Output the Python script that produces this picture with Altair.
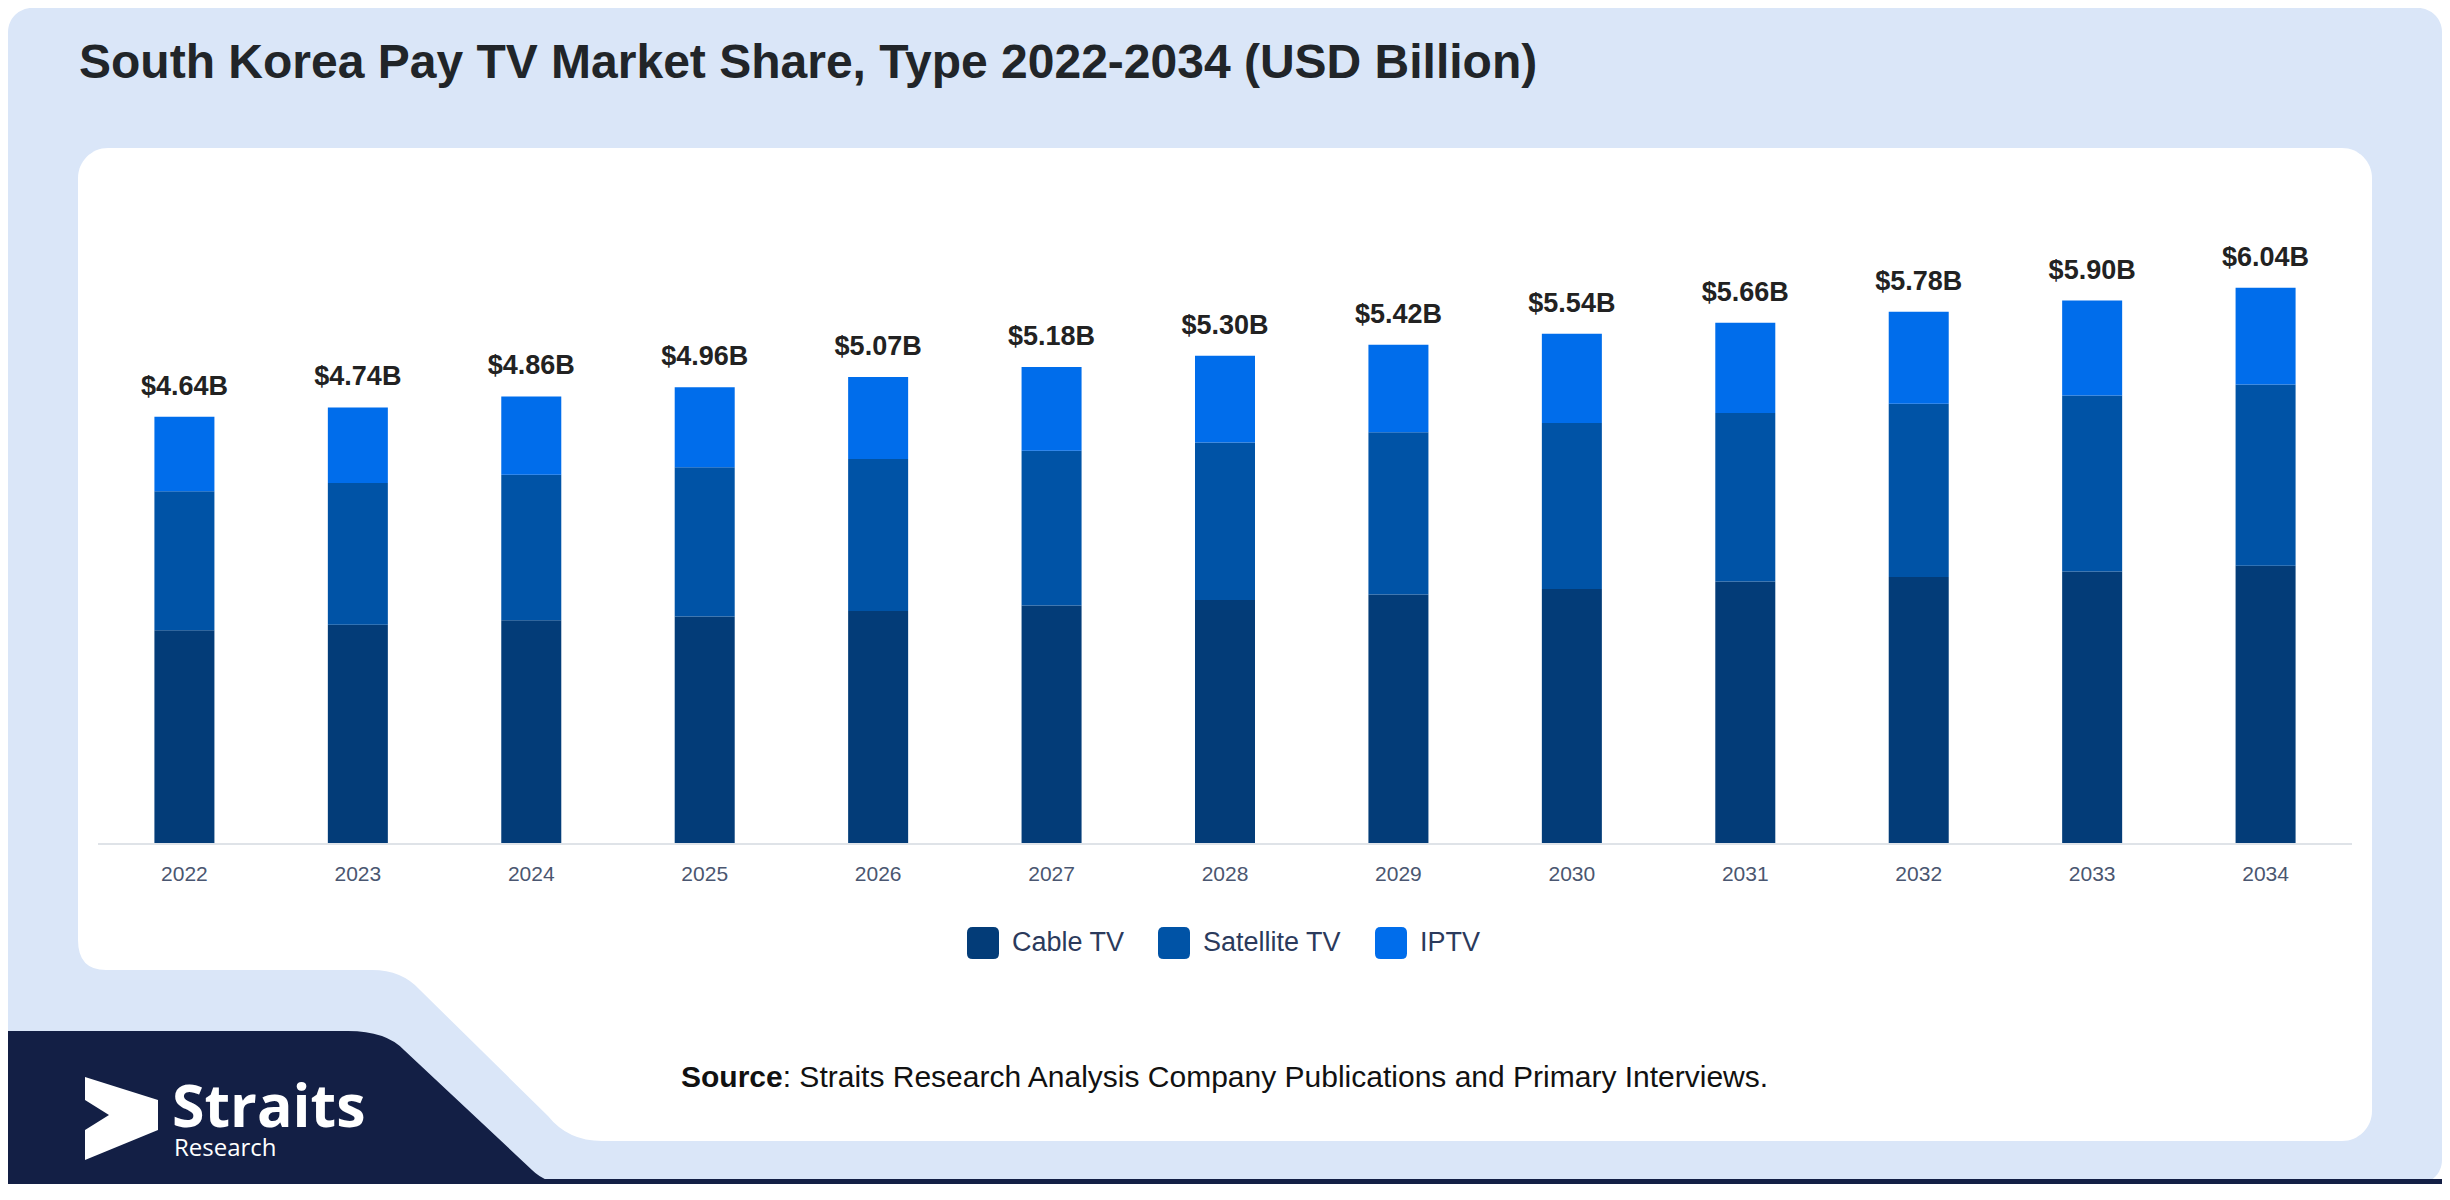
import altair as alt
import pandas as pd

# ---------------- data ----------------
years = ["2022", "2023", "2024", "2025", "2026", "2027", "2028",
         "2029", "2030", "2031", "2032", "2033", "2034"]
cable = [2.32, 2.38, 2.43, 2.47, 2.53, 2.59, 2.65, 2.71, 2.77, 2.85, 2.90, 2.96, 3.02]
satellite = [1.51, 1.54, 1.58, 1.62, 1.65, 1.68, 1.71, 1.76, 1.80, 1.83, 1.88, 1.91, 1.97]
iptv = [0.81, 0.82, 0.85, 0.87, 0.89, 0.91, 0.94, 0.95, 0.97, 0.98, 1.00, 1.03, 1.05]
totals = [4.64, 4.74, 4.86, 4.96, 5.07, 5.18, 5.30, 5.42, 5.54, 5.66, 5.78, 5.90, 6.04]
segments = ["Cable TV", "Satellite TV", "IPTV"]
seg_colors = ["#033c78", "#0053a6", "#006deb"]

title_text = "South Korea Pay TV Market Share, Type 2022-2034 (USD Billion)"
source_bold = "Source"
source_rest = ": Straits Research Analysis Company Publications and Primary Interviews."

# ---------------- frames ----------------
rows = []
for i, y in enumerate(years):
    for k, (name, vals) in enumerate(zip(segments, [cable, satellite, iptv])):
        rows.append({"year": y, "type": name, "value": vals[i], "idx": k})
df = pd.DataFrame(rows)
df_tot = pd.DataFrame({"year": years, "total": totals,
                       "label": [f"${t:.2f}B" for t in totals]})
one = pd.DataFrame({"k": [0]})

# ---------------- layout constants (screen px, page margin 8) ----------------
OFF = 8
W, H = 2434, 1176
LIGHT = "#dae6f8"
NAVY = "#131f45"
FONT = "Liberation Sans"


def X(v):
    return v - OFF


def path_layer(cmds, color):
    xs, ys = [], []
    for c in cmds:
        xs += list(c[1::2])
        ys += list(c[2::2])
    cx = (min(xs) + max(xs)) / 2
    cy = (min(ys) + max(ys)) / 2
    half = max(max(xs) - min(xs), max(ys) - min(ys)) / 2
    parts = []
    for c in cmds:
        nums = [(v - (cx if i % 2 == 0 else cy)) / half for i, v in enumerate(c[1:])]
        parts.append(c[0] + " " + " ".join(f"{n:.5f}" for n in nums))
    path = " ".join(parts) + " Z"
    return alt.Chart(one).mark_point(
        shape=path, filled=True, fill=color, opacity=1, strokeWidth=0,
        size=4 * half * half
    ).encode(x=alt.value(X(cx)), y=alt.value(X(cy)))


def rect_layer(x1, y1, x2, y2, color, r=0):
    return alt.Chart(one).mark_rect(color=color, cornerRadius=r).encode(
        x=alt.value(X(x1)), x2=alt.value(X(x2)),
        y=alt.value(X(y1)), y2=alt.value(X(y2)))


def text_layer(text, x, y, size, color, weight="normal", font=FONT, align="left"):
    return alt.Chart(one).mark_text(
        text=text, font=font, fontSize=size, fontWeight=weight, color=color,
        align=align, baseline="alphabetic"
    ).encode(x=alt.value(X(x)), y=alt.value(X(y)))


# ---------------- decoration ----------------
outer = rect_layer(OFF, OFF, OFF + W, OFF + H, LIGHT, r=24)
panel = rect_layer(78, 148, 2372, 1141, "white", r=30)
notch = path_layer([("M", 70, 940), ("L", 78, 940), ("Q", 78, 970, 106, 970),
                    ("L", 372, 970), ("Q", 402, 970, 420, 990),
                    ("L", 548, 1116), ("Q", 568, 1141, 602, 1141),
                    ("L", 602, 1160), ("L", 70, 1160)], LIGHT)
navy = path_layer([("M", 8, 1031), ("L", 348, 1031), ("Q", 386, 1031, 404, 1050),
                   ("L", 532, 1170), ("Q", 546, 1184, 570, 1184),
                   ("L", 8, 1184)], NAVY)
bottom_line = rect_layer(8, 1179, OFF + W, OFF + H, NAVY)
arrow = path_layer([("M", 85, 1077), ("L", 158, 1100), ("L", 158, 1130),
                    ("L", 85, 1160), ("L", 85, 1130), ("L", 109, 1115),
                    ("L", 85, 1100)], "white")
logo1 = text_layer("Straits", 172, 1127, 59, "white", weight="bold", font="Open Sans")
logo2 = text_layer("Research", 174, 1156, 24, "white", font="Open Sans")

title = text_layer(title_text, 79, 78, 48, "#212529", weight="bold")
SRC_SIZE = 30
src1 = text_layer(source_bold, 681, 1087, SRC_SIZE, "#111111", weight="bold")
src2 = text_layer(source_rest, 681 + 3.39 * SRC_SIZE, 1087, SRC_SIZE, "#111111")

# ---------------- chart ----------------
x_scale = alt.Scale(range=[X(97.7), X(2352.3)], paddingInner=0.654, paddingOuter=0.327)
px_per_b = 92.1
y_scale = alt.Scale(domain=[0, 7], range=[X(844), X(844 - 7 * px_per_b)])

rounded_sq = ("M -0.65 -1 L 0.65 -1 Q 1 -1 1 -0.65 L 1 0.65 Q 1 1 0.65 1 "
              "L -0.65 1 Q -1 1 -1 0.65 L -1 -0.65 Q -1 -1 -0.65 -1 Z")

bars = alt.Chart(df).mark_bar().encode(
    x=alt.X("year:O", scale=x_scale, axis=None),
    y=alt.Y("value:Q", stack="zero", scale=y_scale, axis=None),
    color=alt.Color("type:N",
                    scale=alt.Scale(domain=segments, range=seg_colors),
                    legend=alt.Legend(
                        orient="none", legendX=X(967), legendY=X(927),
                        direction="horizontal", title=None,
                        symbolType=rounded_sq, symbolSize=1024,
                        symbolStrokeWidth=0, symbolOpacity=1,
                        labelFont=FONT, labelFontSize=27, labelColor="#2b3a5c",
                        labelOffset=13, columnPadding=33, padding=0)),
    order=alt.Order("idx:Q", sort="ascending"),
)

baseline = alt.Chart(one).mark_rule(color="#dfe3e8", strokeWidth=2).encode(
    x=alt.value(X(98)), x2=alt.value(X(2352)), y=alt.datum(0))

value_labels = alt.Chart(df_tot).mark_text(
    font=FONT, fontSize=27, fontWeight="bold", color="#222222",
    baseline="alphabetic", dy=-22
).encode(x=alt.X("year:O"), y=alt.Y("total:Q"), text="label:N")

year_labels = alt.Chart(df_tot).mark_text(
    font=FONT, fontSize=21, color="#4a5670", baseline="middle"
).encode(x=alt.X("year:O"), y=alt.value(X(875)), text="year:N")

chart = alt.layer(
    outer, panel, notch, navy, bottom_line, arrow, logo1, logo2,
    title, src1, src2,
    bars, baseline, value_labels, year_labels
).properties(
    width=W, height=H, padding=0, background="white",
    autosize=alt.AutoSizeParams(type="none")
).configure_view(strokeWidth=0)

chart.save("out.html", embed_options={"renderer": "svg", "actions": False})
